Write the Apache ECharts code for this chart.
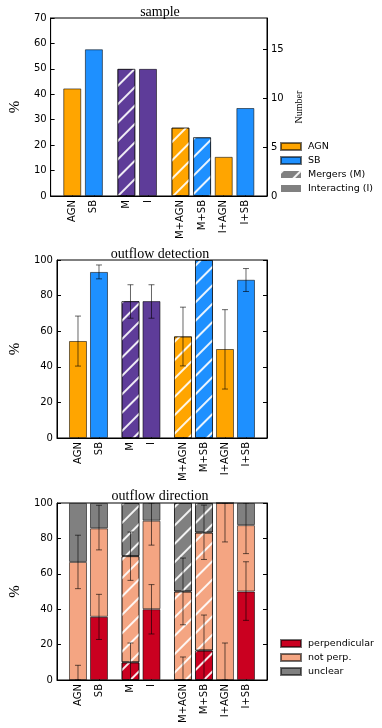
<!DOCTYPE html>
<html>
<head>
<meta charset="utf-8">
<script src="https://cdn.jsdelivr.net/npm/echarts@6/dist/echarts.min.js"></script>
<style>
  html, body { margin: 0; padding: 0; background: #fff; }
  #chart { width: 382px; height: 728px; }
</style>
</head>
<body>
<div id="chart"></div>
<script>
// category groups (a wider gap is left between groups)
var groups = [['AGN', 'SB'], ['M', 'I'], ['M+AGN', 'M+SB', 'I+AGN', 'I+SB']];
var names = ['AGN', 'SB', 'M', 'I', 'M+AGN', 'M+SB', 'I+AGN', 'I+SB'];

// panel 1: fraction of sample (%), count out of 26
var samplePct = [42.3, 57.7, 50, 50, 26.9, 23.1, 15.4, 34.6];
var numberTicks = [0, 5, 10, 15];
var sampleTotal = 26;

// panel 2: outflow detection (%)
var detectPct = [54.5, 93.3, 76.9, 76.9, 57.1, 100, 50, 88.9];
var detectLo = [40.4, 89.4, 67.3, 67.3, 40.5, 100, 27.5, 82.3];
var detectHi = [68.5, 97.2, 86.1, 86.1, 73.5, 100, 72.1, 95.2];

// panel 3: outflow direction (%), stacked
var perpPct = [0, 35.7, 10, 40, 0, 16.7, 0, 50];
var notPerpPct = [66.7, 50, 60, 50, 50, 66.6, 100, 37.5];
var unclearPct = [33.3, 14.3, 30, 10, 50, 16.7, 0, 12.5];
var perpLo = [0, 22.9, 0, 26.0, 0, 0, 0, 33.7];
var perpHi = [8.3, 48.4, 20.9, 53.9, 13.0, 36.7, 20.9, 66.8];
var notPerpLo = [51.6, 73.5, 56.3, 76.2, 31.2, 68.1, 78.0, 71.4];
var notPerpHi = [81.8, 98.7, 83.6, 100, 68.9, 98.8, 100, 100];

var C = {
  agn: '#ffa500', sb: '#1e90ff', purple: '#5e3c99',
  perp: '#ca0020', notPerp: '#f4a582', unclear: '#808080',
  edge: 'rgba(0,0,0,0.55)', err: 'rgba(0,0,0,0.6)'
};
var hatch = {
  symbol: 'rect', symbolSize: 1, color: 'rgba(255,255,255,0.9)',
  dashArrayX: [1, 0], dashArrayY: [1.4, 10.5], rotation: -Math.PI / 4
};

// build the category slots: half-step slots, a bar every other slot
var slots = ['_a', '_b'];
var slotOf = {};
groups.forEach(function (g) {
  g.forEach(function (n) {
    slotOf[n] = slots.length;
    slots.push(n);
    slots.push('_' + slots.length);
  });
  slots.push('_' + slots.length);
});
// slots now spans -1 .. 9 in bar units

function isMerger (n) { return n.charAt(0) === 'M'; }

function spread (values, keep) {
  var out = slots.map(function () { return '-'; });
  names.forEach(function (n, i) {
    if (keep && !keep(n)) return;
    var v = values[i];
    out[slotOf[n]] = isMerger(n) ? { value: v, itemStyle: { decal: hatch } } : v;
  });
  return out;
}
function errData (lo, hi) {
  return names.map(function (n, i) { return [slotOf[n], lo[i], hi[i]]; });
}
function hasAgn (n) { return n.indexOf('AGN') >= 0; }
function hasSb (n) { return n.indexOf('SB') >= 0; }
function isPlain (n) { return n === 'M' || n === 'I'; }

var tickFont = { fontFamily: 'DejaVu Sans', fontSize: 10, color: '#000' };
var serif = 'Liberation Serif';

function xAxisFor (gi) {
  return {
    gridIndex: gi, type: 'category', data: slots, boundaryGap: false,
    axisLine: { lineStyle: { color: '#000' } },
    axisTick: { inside: true, length: 3, lineStyle: { color: '#000' },
      interval: function (i, v) { return v.charAt(0) !== '_'; } },
    axisLabel: Object.assign({ rotate: 90, interval: 0, margin: 4,
      formatter: function (v) { return v.charAt(0) === '_' ? '' : v; } }, tickFont),
    splitLine: { show: false }
  };
}
function yAxisFor (gi, max, interval, pos, name, showLabels) {
  return {
    gridIndex: gi, type: 'value', min: 0, max: max, interval: interval, position: pos,
    name: name, nameLocation: 'middle', nameRotate: 90,
    nameGap: pos === 'left' ? 21 : 13,
    nameTextStyle: { fontFamily: serif, fontSize: name === '%' ? 15 : 10, color: '#000' },
    axisLine: { show: true, lineStyle: { color: '#000' } },
    axisTick: { show: true, inside: true, length: 4, lineStyle: { color: '#000' } },
    axisLabel: Object.assign({ show: showLabels, margin: 4, showMaxLabel: max % interval === 0 }, tickFont),
    splitLine: { show: false }
  };
}

function bar (name, xi, data, color, extra) {
  return Object.assign({
    name: name, type: 'bar', xAxisIndex: xi, yAxisIndex: xi * 2,
    barWidth: 18, barGap: '-100%', data: data,
    itemStyle: { color: color, borderColor: C.edge, borderWidth: 1 }
  }, extra || {});
}
function errSeries (xi, lo, hi) {
  return {
    type: 'custom', xAxisIndex: xi, yAxisIndex: xi * 2, z: 5, clip: true,
    data: errData(lo, hi),
    renderItem: function (params, api) {
      var a = api.coord([api.value(0), api.value(1)]);
      var b = api.coord([api.value(0), api.value(2)]);
      var st = { stroke: C.err, lineWidth: 1 };
      return { type: 'group', children: [
        { type: 'line', shape: { x1: a[0], y1: a[1], x2: b[0], y2: b[1] }, style: st },
        { type: 'line', shape: { x1: a[0] - 3, y1: a[1], x2: a[0] + 3, y2: a[1] }, style: st },
        { type: 'line', shape: { x1: b[0] - 3, y1: b[1], x2: b[0] + 3, y2: b[1] }, style: st }
      ] };
    }
  };
}

var grids = [
  { left: 44, top: 18, width: 223, height: 178 },
  { left: 44, top: 260, width: 223, height: 178 },
  { left: 44, top: 503, width: 223, height: 177 }
].map(function (g) { return Object.assign({ show: true, borderColor: '#000', borderWidth: 1, backgroundColor: 'transparent' }, g); });

var titleStyle = { fontFamily: serif, fontSize: 14, fontWeight: 'normal', color: '#000' };
var legendText = { fontFamily: 'DejaVu Sans', fontSize: 9.5, color: '#000', lineHeight: 11, padding: [0, 0, 0, 2] };

var option = {
  animation: false,
  title: [
    { text: 'sample', left: 155, top: 0, textAlign: 'center', textStyle: titleStyle },
    { text: 'outflow detection', left: 155, top: 242, textAlign: 'center', textStyle: titleStyle },
    { text: 'outflow direction', left: 155, top: 484, textAlign: 'center', textStyle: titleStyle }
  ],
  legend: [
    { data: ['AGN', 'SB', 'Mergers (M)', 'Interacting (I)'], orient: 'vertical', left: 280, top: 141,
      padding: 0, itemWidth: 20, itemHeight: 7, itemGap: 3, icon: 'rect', selectedMode: false,
      textStyle: legendText },
    { data: ['perpendicular', 'not perp.', 'unclear'], orient: 'vertical', left: 280, top: 638,
      padding: 0, itemWidth: 20, itemHeight: 7, itemGap: 3, icon: 'rect', selectedMode: false,
      textStyle: legendText }
  ],
  grid: grids,
  xAxis: [xAxisFor(0), xAxisFor(1), xAxisFor(2)],
  yAxis: [
    yAxisFor(0, 70, 10, 'left', '%', true),
    yAxisFor(0, 70 * sampleTotal / 100, 5, 'right', 'Number', true),
    yAxisFor(1, 100, 20, 'left', '%', true),
    yAxisFor(1, 100, 20, 'right', '', false),
    yAxisFor(2, 100, 20, 'left', '%', true),
    yAxisFor(2, 100, 20, 'right', '', false)
  ],
  series: [
    bar('AGN', 0, spread(samplePct, hasAgn), C.agn),
    bar('SB', 0, spread(samplePct, hasSb), C.sb),
    bar('_purple0', 0, spread(samplePct, isPlain), C.purple),
    bar('Mergers (M)', 0, [], C.unclear, { itemStyle: { color: C.unclear, borderColor: C.unclear, decal: hatch } }),
    bar('Interacting (I)', 0, [], C.unclear, { itemStyle: { color: C.unclear, borderColor: C.unclear } }),

    bar('_agn1', 1, spread(detectPct, hasAgn), C.agn),
    bar('_sb1', 1, spread(detectPct, hasSb), C.sb),
    bar('_purple1', 1, spread(detectPct, isPlain), C.purple),
    errSeries(1, detectLo, detectHi),

    bar('perpendicular', 2, spread(perpPct), C.perp, { stack: 'dir' }),
    bar('not perp.', 2, spread(notPerpPct), C.notPerp, { stack: 'dir' }),
    bar('unclear', 2, spread(unclearPct), C.unclear, { stack: 'dir' }),
    errSeries(2, perpLo, perpHi),
    errSeries(2, notPerpLo, notPerpHi)
  ]
};

var myChart = echarts.init(document.getElementById('chart'));
myChart.setOption(option);
</script>
</body>
</html>
